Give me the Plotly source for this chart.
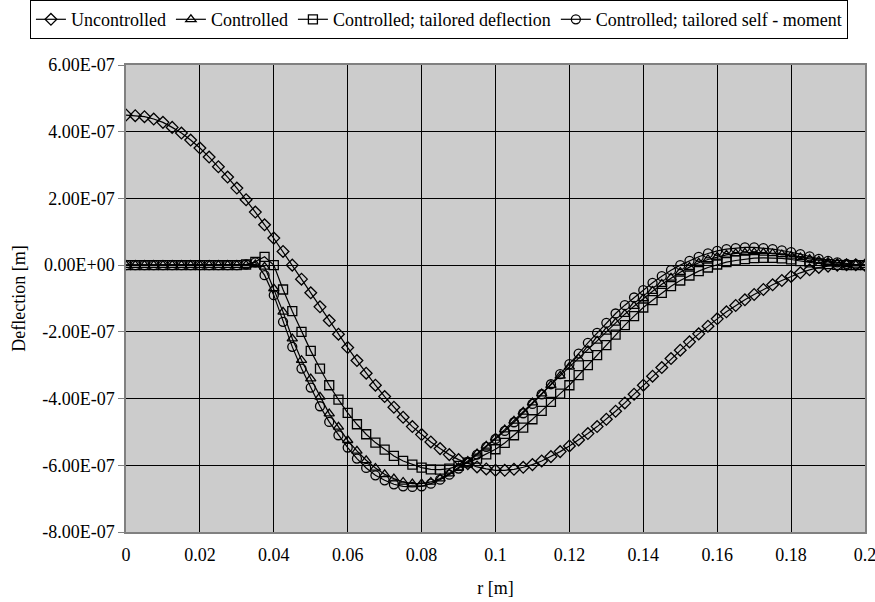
import plotly.graph_objects as go

r = [0.0, 0.0025, 0.005, 0.0075, 0.01, 0.0125, 0.015, 0.0175, 0.02, 0.0225,
     0.025, 0.0275, 0.03, 0.0325, 0.035, 0.0375, 0.04, 0.0425, 0.045, 0.0475,
     0.05, 0.0525, 0.055, 0.0575, 0.06, 0.0625, 0.065, 0.0675, 0.07, 0.0725,
     0.075, 0.0775, 0.08, 0.0825, 0.085, 0.0875, 0.09, 0.0925, 0.095, 0.0975,
     0.1, 0.1025, 0.105, 0.1075, 0.11, 0.1125, 0.115, 0.1175, 0.12, 0.1225,
     0.125, 0.1275, 0.13, 0.1325, 0.135, 0.1375, 0.14, 0.1425, 0.145, 0.1475,
     0.15, 0.1525, 0.155, 0.1575, 0.16, 0.1625, 0.165, 0.1675, 0.17, 0.1725,
     0.175, 0.1775, 0.18, 0.1825, 0.185, 0.1875, 0.19, 0.1925, 0.195, 0.1975,
     0.2]

# deflection values in units of 1e-7 m
uncontrolled = [4.50, 4.48, 4.45, 4.38, 4.28, 4.13, 3.96, 3.75, 3.51, 3.24,
                2.95, 2.64, 2.31, 1.96, 1.59, 1.21, 0.81, 0.41, 0.00, -0.42,
                -0.83, -1.25, -1.66, -2.07, -2.47, -2.86, -3.24, -3.60, -3.94, -4.26,
                -4.56, -4.84, -5.08, -5.30, -5.50, -5.68, -5.83, -5.95, -6.05, -6.11,
                -6.15, -6.15, -6.12, -6.06, -5.98, -5.87, -5.74, -5.59, -5.42, -5.24,
                -5.05, -4.84, -4.62, -4.38, -4.13, -3.87, -3.60, -3.33, -3.07, -2.80,
                -2.55, -2.30, -2.06, -1.83, -1.61, -1.40, -1.21, -1.04, -0.88, -0.73,
                -0.59, -0.46, -0.34, -0.23, -0.14, -0.07, -0.03, 0.00, 0.01, 0.01,
                0.00]

controlled = [0.00, 0.00, 0.00, 0.00, 0.00, 0.00, 0.00, 0.00, 0.00, 0.00,
              0.00, 0.00, 0.00, 0.00, 0.02, -0.05, -0.70, -1.40, -2.20, -2.85,
              -3.40, -3.95, -4.45, -4.85, -5.25, -5.57, -5.85, -6.08, -6.27, -6.40,
              -6.50, -6.55, -6.55, -6.50, -6.40, -6.25, -6.07, -5.87, -5.65, -5.42,
              -5.18, -4.93, -4.67, -4.40, -4.12, -3.85, -3.60, -3.32, -3.05, -2.80,
              -2.55, -2.27, -2.00, -1.73, -1.47, -1.23, -1.00, -0.78, -0.57, -0.38,
              -0.21, -0.06, 0.07, 0.17, 0.25, 0.31, 0.35, 0.37, 0.38, 0.37,
              0.35, 0.32, 0.28, 0.23, 0.18, 0.13, 0.09, 0.05, 0.03, 0.01,
              0.00]

tailored_deflection = [0.00, 0.00, 0.00, 0.00, 0.00, 0.00, 0.00, 0.00, 0.00, 0.00,
                       0.00, 0.00, 0.00, 0.02, 0.10, 0.25, 0.00, -0.73, -1.38, -2.00,
                       -2.57, -3.10, -3.60, -4.03, -4.43, -4.77, -5.07, -5.32, -5.53, -5.72,
                       -5.87, -5.98, -6.07, -6.12, -6.13, -6.10, -6.02, -5.92, -5.80, -5.67,
                       -5.52, -5.33, -5.10, -4.87, -4.62, -4.37, -4.10, -3.85, -3.60, -3.30,
                       -3.00, -2.70, -2.40, -2.08, -1.80, -1.53, -1.27, -1.05, -0.83, -0.63,
                       -0.46, -0.31, -0.18, -0.07, 0.02, 0.09, 0.14, 0.18, 0.21, 0.22,
                       0.22, 0.20, 0.17, 0.12, 0.08, 0.05, 0.03, 0.01, 0.00, 0.00,
                       0.00]

tailored_moment = [0.00, 0.00, 0.00, 0.00, 0.00, 0.00, 0.00, 0.00, 0.00, 0.00,
                   0.00, 0.00, 0.00, 0.02, 0.08, -0.30, -0.90, -1.70, -2.45, -3.10,
                   -3.67, -4.23, -4.70, -5.10, -5.47, -5.80, -6.08, -6.30, -6.45, -6.57,
                   -6.63, -6.65, -6.63, -6.55, -6.43, -6.28, -6.10, -5.90, -5.68, -5.45,
                   -5.21, -4.97, -4.71, -4.44, -4.16, -3.87, -3.57, -3.27, -2.97, -2.65,
                   -2.33, -2.03, -1.73, -1.45, -1.20, -0.97, -0.75, -0.53, -0.33, -0.15,
                   0.00, 0.13, 0.25, 0.35, 0.43, 0.48, 0.51, 0.53, 0.53, 0.51,
                   0.48, 0.44, 0.39, 0.33, 0.26, 0.19, 0.13, 0.08, 0.04, 0.02,
                   0.00]

series_names = ["Uncontrolled", "Controlled", "Controlled; tailored deflection",
                "Controlled; tailored self - moment"]
series_values = [uncontrolled, controlled, tailored_deflection, tailored_moment]
series_symbols = ["diamond-open", "triangle-up-open", "square-open", "circle-open"]
series_sizes = [9, 9, 9, 9]

y_tick_vals = [6e-7, 4e-7, 2e-7, 0.0, -2e-7, -4e-7, -6e-7, -8e-7]
y_tick_text = ["6.00E-07", "4.00E-07", "2.00E-07", "0.00E+00",
               "-2.00E-07", "-4.00E-07", "-6.00E-07", "-8.00E-07"]
x_tick_vals = [0, 0.02, 0.04, 0.06, 0.08, 0.1, 0.12, 0.14, 0.16, 0.18, 0.2]
x_tick_text = ["0", "0.02", "0.04", "0.06", "0.08", "0.1", "0.12", "0.14",
               "0.16", "0.18", "0.2"]

SCALE = 1e-7
FONT = "Liberation Serif, DejaVu Serif"

fig = go.Figure()
for name, vals, sym, sz in zip(series_names, series_values, series_symbols, series_sizes):
    fig.add_trace(go.Scatter(
        x=r, y=[v * SCALE for v in vals], name=name, mode="lines+markers",
        line=dict(color="black", width=1.2),
        marker=dict(symbol=sym, size=sz, color="black", line=dict(color="black", width=1.3)),
    ))

fig.update_layout(
    width=875, height=602,
    margin=dict(l=126, r=10, t=65, b=70, autoexpand=False),
    paper_bgcolor="white", plot_bgcolor="#cccccc",
    font=dict(family=FONT, size=18, color="black"),
    showlegend=True,
    legend=dict(orientation="h", xref="paper", yref="paper",
                x=-0.13, xanchor="left", y=1.139, yanchor="top",
                bordercolor="black", borderwidth=1, bgcolor="white",
                font=dict(family=FONT, size=18), itemwidth=30, tracegroupgap=0),
    xaxis=dict(range=[0, 0.2], tickvals=x_tick_vals, ticktext=x_tick_text,
               showgrid=True, gridcolor="black", gridwidth=1,
               showline=True, linecolor="#808080", linewidth=1.5, mirror=True,
               ticks="", zeroline=False, ticklabeloverflow="allow", automargin=False,
               ticklabelstandoff=6,
               title=dict(text="r [m]", standoff=17, font=dict(family=FONT, size=18)),
               tickfont=dict(family=FONT, size=18)),
    yaxis=dict(range=[-8e-7, 6e-7], tickvals=y_tick_vals, ticktext=y_tick_text,
               showgrid=True, gridcolor="black", gridwidth=1,
               showline=True, linecolor="#808080", linewidth=1.5, mirror=True,
               ticks="outside", ticklen=6, tickcolor="#808080",
               zeroline=False, automargin=False,
               title=dict(text="Deflection [m]", standoff=12, font=dict(family=FONT, size=18)),
               tickfont=dict(family=FONT, size=18)),
)

fig.write_html("out.html")
